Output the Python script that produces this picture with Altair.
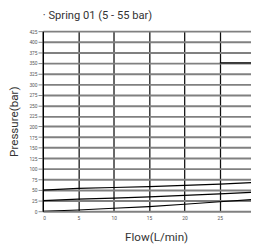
import altair as alt
import pandas as pd

flow = [0, 5, 10, 15, 20, 25, 30]
curve_a = [50, 54, 56, 58, 61, 64, 68]
curve_b = [25, 28.5, 31, 34, 37.5, 41, 45]
curve_c = [0, 3, 7, 11, 16.5, 22.5, 28]
seg_flow = [25, 30]
seg_p = [350, 350]

rows = []
for name, vals in [("A", curve_a), ("B", curve_b), ("C", curve_c)]:
    for f, p in zip(flow, vals):
        rows.append({"flow": f, "p": p, "s": name})
for f, p in zip(seg_flow, seg_p):
    rows.append({"flow": f, "p": p, "s": "D"})
df = pd.DataFrame(rows)

chart = alt.Chart(df).mark_line(color="black", strokeWidth=1.2, clip=True).encode(
    x=alt.X("flow:Q", scale=alt.Scale(domain=[0, 29.4], nice=False),
            axis=alt.Axis(values=[0, 5, 10, 15, 20, 25], title="Flow(L/min)",
                          grid=True, gridColor="#111", gridWidth=1.3,
                          domain=False, ticks=False, labelFontSize=5,
                          labelColor="#555", labelPadding=5,
                          titleFontSize=12, titleFont="Roboto", titleFontWeight="normal",
                          titleColor="#333", titlePadding=11, titleX=117)),
    y=alt.Y("p:Q", scale=alt.Scale(domain=[0, 425], nice=False),
            axis=alt.Axis(values=list(range(0, 426, 25)), title="Pressure(bar)",
                          grid=True, gridColor="#808080", gridWidth=2,
                          domain=True, domainColor="black", domainWidth=1.3,
                          ticks=True, tickColor="#888", tickSize=5,
                          labelFontSize=5, labelColor="#555", labelPadding=1,
                          titleFontSize=12, titleFont="Roboto", titleFontWeight="normal",
                          titleColor="#333", titlePadding=9)),
    detail="s:N",
).properties(
    width=215, height=186,
    title=alt.TitleParams("· Spring 01 (5 - 55 bar)", anchor="start", frame="group",
                          fontSize=11.5, font="Roboto", fontWeight="normal",
                          color="#333", offset=8),
    autosize=alt.AutoSizeParams(type="none"),
    padding={"left": 36, "top": 20, "right": 0, "bottom": 33},
).configure_view(stroke=None).configure_axis(labelFont="Roboto")

chart.save("out.html", embed_options={"renderer": "svg", "actions": False})
